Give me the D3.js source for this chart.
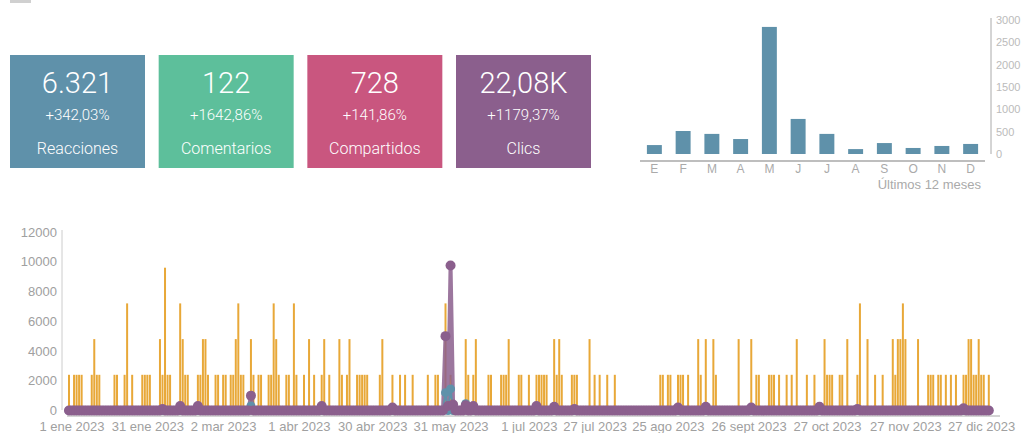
<!DOCTYPE html>
<html>
<head>
<meta charset="utf-8">
<script src="https://cdn.jsdelivr.net/npm/d3@7/dist/d3.min.js"></script>
<style>
body { margin: 0; background: #fff; }
svg { display: block; }
</style>
</head>
<body>
<div id="chart"></div>
<script>
// tarjetas resumen
var cardValues = ["6.321", "122", "728", "22,08K"];
var cardChanges = ["+342,03%", "+1642,86%", "+141,86%", "+1179,37%"];
var cardLabels = ["Reacciones", "Comentarios", "Compartidos", "Clics"];
var cardColors = ["#5f91aa", "#5dbf9b", "#c9567f", "#8b5f8d"];

// últimos 12 meses
var months = ["E", "F", "M", "A", "M", "J", "J", "A", "S", "O", "N", "D"];
var monthValues = [200, 515, 450, 335, 2845, 785, 450, 110, 245, 135, 180, 225];
var monthTicks = [0, 500, 1000, 1500, 2000, 2500, 3000];

// serie diaria (día del año 2023, 0 = 1 ene)
var sharesDays = [0, 2, 3, 4, 5, 9, 10, 11, 12, 18, 19, 22, 23, 25, 29, 30, 31, 32, 36, 37, 38, 39, 40,
    44, 45, 46, 47, 51, 52, 53, 54, 55, 58, 59, 61, 62, 64, 65, 66, 67, 68, 69, 72, 73, 75, 76, 79, 80,
    81, 82, 83, 86, 87, 89, 90,
    93, 95, 97, 100, 101, 103, 107, 108, 110, 111, 114, 115, 116, 117, 118, 123, 124, 128, 131, 133,
    136, 142, 145, 146, 149, 151, 157, 158, 160, 161, 166, 167, 171, 172, 173, 174, 178, 179, 182,
    185, 186, 187, 188, 189, 192, 193, 194, 195, 199, 200, 201, 206, 208, 210, 213, 216, 234, 235,
    237, 238, 241, 242, 243, 245, 249, 250, 252, 255, 256, 265, 270, 272, 273, 277,
    278, 279, 281, 284, 286, 288, 292, 295, 299, 300, 301, 302, 305, 306, 308, 312, 313, 316, 319,
    322, 326, 327, 328, 329, 330, 331, 336, 340, 341, 342, 344, 345, 347, 349, 351, 354, 355, 356,
    357, 358, 359, 360, 361, 362, 364];
var sharesValues = [2400, 2400, 2400, 2400, 2400, 2400, 4800, 2400, 2400, 2400, 2400, 2400, 7200, 2400, 2400, 2400, 2400, 2400, 4800, 2400, 9600, 2400, 2400,
    7200, 4800, 2400, 2400, 2400, 2400, 4800, 4800, 2400, 2400, 2400, 2400, 2400, 2400, 2400, 4800, 7200, 2400, 2400, 4800, 2400, 2400, 2400, 2400, 2400,
    7200, 4800, 2400, 2400, 2400, 7200, 2400,
    2400, 4800, 2400, 2400, 4800, 2400, 4800, 2400, 2400, 4800, 2400, 2400, 2400, 2400, 2400, 2400, 4800, 2400, 2400, 2400,
    2400, 2400, 2400, 2400, 7200, 2400, 4800, 2400, 2400, 4800, 2400, 2400, 2400, 2400, 2400, 4800, 2400, 2400, 2400,
    2400, 2400, 2400, 2400, 2400, 4800, 2400, 4800, 2400, 2400, 2400, 2400, 4800, 2400, 2400, 2400, 2400, 2400, 2400,
    2400, 2400, 2400, 2400, 2400, 2400, 4800, 2400, 4800, 4800, 2400, 4800, 4800, 2400, 2400, 2400,
    2400, 2400, 2400, 2400, 2400, 4800, 2400, 2400, 4800, 2400, 2400, 2400, 2400, 2400, 4800, 2400, 7200, 4800, 2400,
    2400, 4800, 2400, 4800, 4800, 7200, 4800, 4800, 2400, 2400, 2400, 2400, 2400, 2400, 2400, 2400, 2400, 2400, 4800,
    4800, 2400, 2400, 4800, 2400, 2400, 2400];

// clics y reacciones: días no listados ~0
var clicsDays = [37, 44, 51, 72, 100, 128, 149, 150, 151, 152, 157, 160, 185, 192, 200, 241, 252, 270, 297, 312, 354];
var clicsValues = [100, 300, 300, 1000, 300, 200, 5000, 300, 9750, 400, 350, 300, 300, 250, 100, 200, 250, 200, 250, 100, 150];
var reacDays = [72, 149, 151, 157];
var reacValues = [300, 1200, 1450, 450];

var yTicks = [0, 2000, 4000, 6000, 8000, 10000, 12000];
var xTickDates = ["2023-01-01", "2023-01-31", "2023-03-02", "2023-04-01", "2023-04-30", "2023-05-31",
    "2023-07-01", "2023-07-27", "2023-08-25", "2023-09-26", "2023-10-27", "2023-11-27", "2023-12-27"];
var monthNames = ["ene", "feb", "mar", "abr", "may", "jun", "jul", "ago", "sept", "oct", "nov", "dic"];

var width = 1028, height = 433;
var font = "'Liberation Sans', Arial, sans-serif";
var cardFont = "Roboto, 'Liberation Sans', sans-serif";

var svg = d3.select("#chart").append("svg")
    .attr("width", width)
    .attr("height", height);

// resto de la cabecera cortada
svg.append("rect").attr("x", 10).attr("y", -2).attr("width", 21).attr("height", 5).attr("fill", "#d0d0d0");

// ---- tarjetas
var cardX = d3.scaleBand().domain(d3.range(4)).range([10, 591]).paddingInner(0.092);

var card = svg.selectAll(".card")
    .data(d3.range(4))
    .enter().append("g")
    .attr("class", "card")
    .attr("transform", function(i) { return "translate(" + cardX(i) + ",55)"; });

card.append("rect")
    .attr("width", cardX.bandwidth())
    .attr("height", 113)
    .attr("fill", function(i) { return cardColors[i]; });

card.append("text")
    .attr("x", cardX.bandwidth() / 2).attr("y", 38)
    .attr("text-anchor", "middle")
    .style("font-family", cardFont).style("font-weight", 300)
    .style("font-size", "29px").attr("fill", "#fff")
    .text(function(i) { return cardValues[i]; });

card.append("text")
    .attr("x", cardX.bandwidth() / 2).attr("y", 65)
    .attr("text-anchor", "middle")
    .style("font-family", cardFont).style("font-weight", 300)
    .style("font-size", "15px").attr("fill", "#fff")
    .text(function(i) { return cardChanges[i]; });

card.append("text")
    .attr("x", cardX.bandwidth() / 2).attr("y", 99)
    .attr("text-anchor", "middle")
    .style("font-family", cardFont).style("font-weight", 300)
    .style("font-size", "16px").attr("fill", "#fff")
    .text(function(i) { return cardLabels[i]; });

// ---- últimos 12 meses
var mx = d3.scaleBand().domain(d3.range(12)).range([640, 985]).paddingInner(0.48).paddingOuter(0.24);
var my = d3.scaleLinear().domain([0, 3000]).range([154, 20]);

svg.selectAll(".mbar")
    .data(monthValues)
    .enter().append("rect")
    .attr("class", "mbar")
    .attr("x", function(d, i) { return mx(i); })
    .attr("width", mx.bandwidth())
    .attr("y", function(d) { return my(d); })
    .attr("height", function(d) { return my(0) - my(d); })
    .attr("fill", "#5f91aa");

svg.append("line")
    .attr("x1", 640).attr("x2", 985).attr("y1", 161).attr("y2", 161)
    .attr("stroke", "#a8a8a8").attr("stroke-width", 1.5);

var myAxis = svg.append("g")
    .attr("transform", "translate(991,0)")
    .call(d3.axisRight(my).tickValues(monthTicks).tickFormat(d3.format("d")).tickSize(0).tickPadding(5));
myAxis.select(".domain").attr("stroke", "#aaa").attr("d", "M0,18V154");
myAxis.selectAll("text").style("font-family", font).style("font-size", "11px").attr("fill", "#bbb");

svg.selectAll(".mlabel")
    .data(months)
    .enter().append("text")
    .attr("x", function(d, i) { return mx(i) + mx.bandwidth() / 2; })
    .attr("y", 173)
    .attr("text-anchor", "middle")
    .style("font-family", font).style("font-size", "12px").attr("fill", "#aaa")
    .text(function(d) { return d; });

svg.append("text")
    .attr("x", 981).attr("y", 189)
    .attr("text-anchor", "end")
    .style("font-family", font).style("font-size", "13px").attr("fill", "#aaa")
    .text("Últimos 12 meses");

// ---- gráfico diario
var start = new Date(2023, 0, 1);
function dayDate(d) { return d3.timeDay.offset(start, d); }

var x = d3.scaleTime().domain([start, new Date(2023, 11, 31)]).range([69, 988.8]);
var y = d3.scaleLinear().domain([0, 12000]).range([410.5, 232]);

function daily(days, values) {
    var lookup = {};
    days.forEach(function(d, i) { lookup[d] = values[i]; });
    return d3.range(365).map(function(d) {
        return { date: dayDate(d), value: lookup[d] || 0 };
    });
}
var clics = daily(clicsDays, clicsValues);
var reac = daily(reacDays, reacValues);

var yAxis = svg.append("g")
    .attr("transform", "translate(62,0)")
    .call(d3.axisLeft(y).tickValues(yTicks).tickFormat(d3.format("d")).tickSize(0).tickPadding(5));
yAxis.select(".domain").attr("stroke", "#ccc").attr("d", "M0,230V410");
yAxis.selectAll("text").style("font-family", font).style("font-size", "13px").attr("fill", "#a0a0a0");

svg.append("line")
    .attr("x1", 67).attr("x2", 1000).attr("y1", 416).attr("y2", 416)
    .attr("stroke", "#aaa").attr("stroke-width", 1);

svg.selectAll(".xlabel")
    .data(xTickDates)
    .enter().append("text")
    .attr("x", function(d) { return x(d3.isoParse(d)) + 3; })
    .attr("y", 431)
    .attr("text-anchor", "middle")
    .style("font-family", font).style("font-size", "13px").attr("fill", "#a0a0a0")
    .text(function(d) {
        var t = d3.isoParse(d);
        return t.getDate() + " " + monthNames[t.getMonth()] + " " + t.getFullYear();
    });

svg.selectAll(".share")
    .data(sharesDays)
    .enter().append("rect")
    .attr("class", "share")
    .attr("x", function(d) { return x(dayDate(d)) - 1; })
    .attr("width", 2)
    .attr("y", function(d, i) { return y(sharesValues[i]); })
    .attr("height", function(d, i) { return y(0) - y(sharesValues[i]); })
    .attr("fill", "#e8a838");

var line = d3.line()
    .x(function(d) { return x(d.date); })
    .y(function(d) { return y(d.value); });

svg.append("path")
    .datum(clics)
    .attr("fill", "none")
    .attr("stroke", "#8b5f8d")
    .attr("stroke-opacity", 0.85)
    .attr("stroke-width", 4)
    .attr("d", line);

svg.append("path")
    .datum(reac)
    .attr("fill", "none")
    .attr("stroke", "#5f91aa")
    .attr("stroke-width", 2)
    .attr("d", line);

svg.selectAll(".reac")
    .data(reac)
    .enter().append("circle")
    .attr("cx", function(d) { return x(d.date); })
    .attr("cy", function(d) { return y(d.value); })
    .attr("r", 4.5)
    .attr("fill", "#5f91aa");

svg.selectAll(".clic")
    .data(clics)
    .enter().append("circle")
    .attr("cx", function(d) { return x(d.date); })
    .attr("cy", function(d) { return y(d.value); })
    .attr("r", 5)
    .attr("fill", "#8b5f8d");
</script>
</body>
</html>
